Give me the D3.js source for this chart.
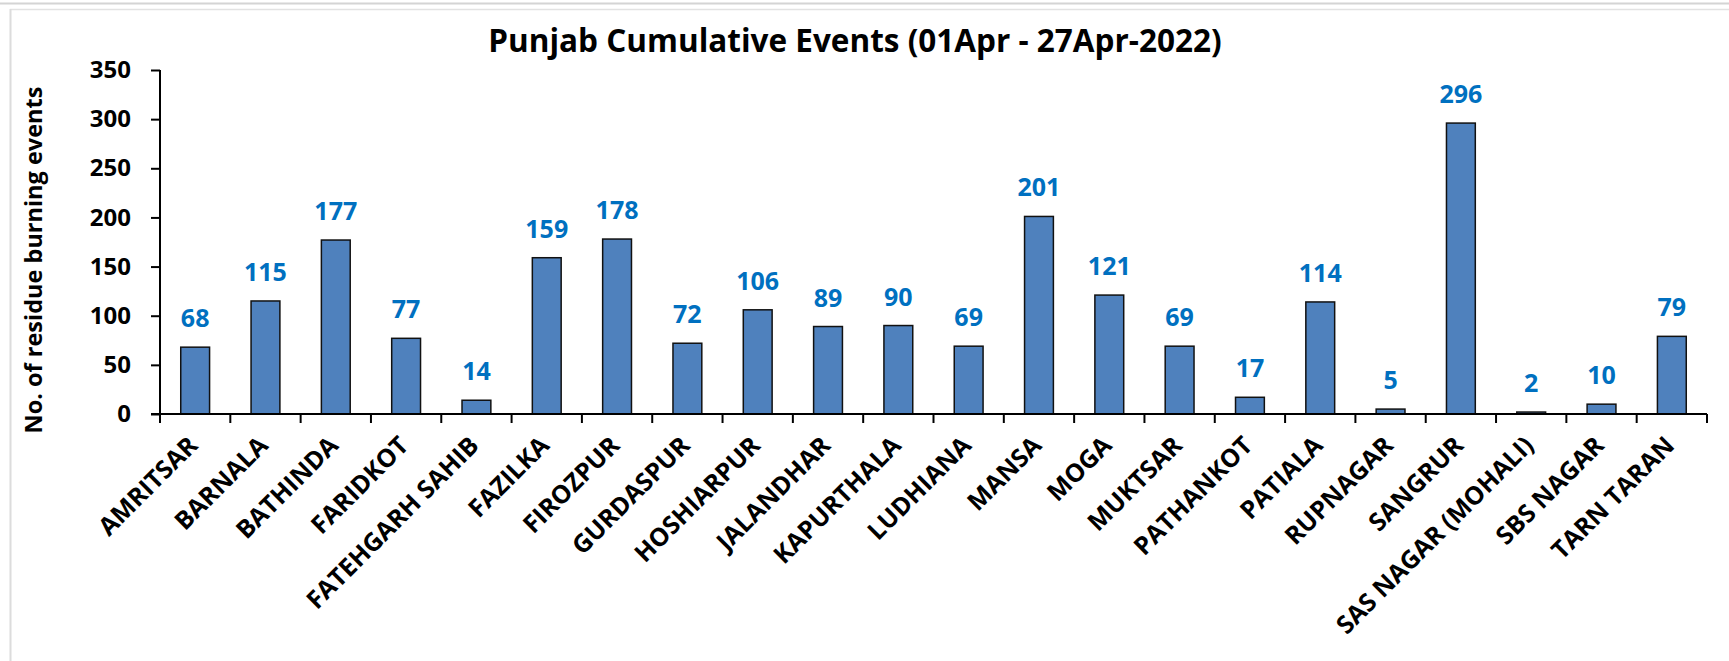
<!DOCTYPE html>
<html lang="en">
<head>
<meta charset="utf-8">
<title>Punjab Cumulative Events</title>
<script src="https://d3js.org/d3.v7.min.js"></script>
<style>
  body { margin: 0; background: #fff; }
  text { font-family: "Open Sans", "Noto Sans", sans-serif; font-weight: bold; }
</style>
</head>
<body>
<script>
// data
var districts = ["AMRITSAR", "BARNALA", "BATHINDA", "FARIDKOT", "FATEHGARH SAHIB", "FAZILKA",
  "FIROZPUR", "GURDASPUR", "HOSHIARPUR", "JALANDHAR", "KAPURTHALA", "LUDHIANA", "MANSA",
  "MOGA", "MUKTSAR", "PATHANKOT", "PATIALA", "RUPNAGAR", "SANGRUR", "SAS NAGAR (MOHALI)",
  "SBS NAGAR", "TARN TARAN"];
var events = [68, 115, 177, 77, 14, 159, 178, 72, 106, 89, 90, 69, 201, 121, 69, 17, 114, 5, 296, 2, 10, 79];
var yTicks = [0, 50, 100, 150, 200, 250, 300, 350];
var title = "Punjab Cumulative Events (01Apr - 27Apr-2022)";
var yTitle = "No. of residue burning events";

var w = 1729, h = 661;
var mLeft = 160, mRight = 1707, mTop = 70, mBottom = 414;

var svg = d3.select("body").append("svg").attr("width", w).attr("height", h);
svg.append("rect").attr("width", w).attr("height", h).attr("fill", "white");

// frame lines like the screenshot
svg.append("line").attr("x1", 0).attr("x2", w).attr("y1", 3.5).attr("y2", 3.5).attr("stroke", "#d4d4d4").attr("stroke-width", 2);
svg.append("line").attr("x1", 10).attr("x2", w).attr("y1", 9.5).attr("y2", 9.5).attr("stroke", "#e2e2e2").attr("stroke-width", 1.5);
svg.append("line").attr("x1", 10.5).attr("x2", 10.5).attr("y1", 9).attr("y2", h).attr("stroke", "#dcdcdc").attr("stroke-width", 2);

var x = d3.scaleBand().domain(districts).range([mLeft, mRight]).paddingInner(0.59).paddingOuter(0.295);
var xb = d3.scaleBand().domain(districts).range([mLeft, mRight]);
var y = d3.scaleLinear().domain([0, 350]).range([mBottom, mTop]);

// bars
svg.selectAll("rect.bar").data(events).enter().append("rect")
  .attr("class", "bar")
  .attr("x", function(d, i) { return x(districts[i]); })
  .attr("y", function(d) { return y(d); })
  .attr("width", x.bandwidth())
  .attr("height", function(d) { return y(0) - y(d); })
  .attr("fill", "#4F81BD")
  .attr("stroke", "#111")
  .attr("stroke-width", 1.5);

// value labels
svg.selectAll("text.val").data(events).enter().append("text")
  .attr("class", "val")
  .attr("x", function(d, i) { return xb(districts[i]) + xb.bandwidth() / 2; })
  .attr("y", function(d) { return y(d) - 20; })
  .attr("text-anchor", "middle")
  .attr("fill", "#0070C0")
  .attr("font-size", 25)
  .text(function(d) { return d; });

// y axis
var yAxis = d3.axisLeft(y).tickValues(yTicks).tickSize(9).tickPadding(20);
var gy = svg.append("g").attr("transform", "translate(" + mLeft + ",0)").call(yAxis);
gy.select(".domain").attr("stroke", "#000").attr("stroke-width", 2).attr("d", "M0," + mTop + "V" + mBottom);
gy.selectAll(".tick line").attr("stroke", "#000").attr("stroke-width", 2);
gy.selectAll(".tick text").attr("font-size", 24).attr("fill", "#000")
  .style("font-family", "'Open Sans', sans-serif").style("font-weight", "bold");

// x axis (ticks between bands)
var xAxis = d3.axisBottom(xb).tickSize(0).tickFormat("");
var gx = svg.append("g").attr("transform", "translate(0," + mBottom + ")").call(xAxis);
gx.select(".domain").attr("stroke", "#000").attr("stroke-width", 2).attr("d", "M" + (mLeft - 9) + ",0H" + mRight);
gx.selectAll(".sep").data(districts.concat(["end"])).enter().append("line")
  .attr("class", "sep")
  .attr("x1", function(d, i) { return i < districts.length ? xb(d) : mRight; })
  .attr("x2", function(d, i) { return i < districts.length ? xb(d) : mRight; })
  .attr("y1", 0).attr("y2", 9)
  .attr("stroke", "#000").attr("stroke-width", 2);

svg.selectAll("text.cat").data(districts).enter().append("text")
  .attr("class", "cat")
  .attr("transform", function(d) {
    return "translate(" + (xb(d) + xb.bandwidth() / 2 + 4) + "," + (mBottom + 33) + ") rotate(-45)";
  })
  .attr("text-anchor", "end")
  .attr("font-size", 25)
  .attr("fill", "#000")
  .text(function(d) { return d; });

// titles
svg.append("text").attr("x", 855).attr("y", 52).attr("text-anchor", "middle")
  .attr("font-size", 31.5).attr("fill", "#000").text(title);
svg.append("text").attr("transform", "translate(42,260) rotate(-90)").attr("text-anchor", "middle")
  .attr("font-size", 23.5).attr("fill", "#000").text(yTitle);
</script>
</body>
</html>
